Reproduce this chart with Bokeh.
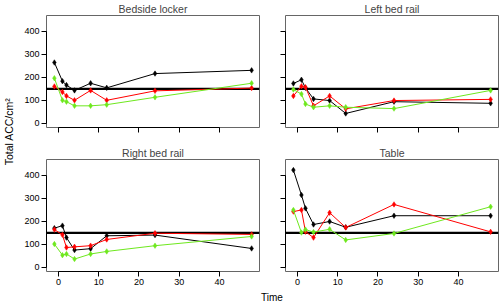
import math
from bokeh.plotting import figure
from bokeh.layouts import row, column
from bokeh.models import Range1d, FixedTicker, Span
from bokeh.embed import file_html
from bokeh.resources import INLINE
from bokeh.core.properties import value

# ---- data ----
time = [-1, 1, 2, 4, 8, 12, 24, 48]

titles = ["Bedside locker", "Left bed rail", "Right bed rail", "Table"]

bedside_black = [264, 183, 166, 143, 174, 154, 216, 230]
bedside_red = [160, 136, 119, 100, 143, 100, 141, 153]
bedside_green = [196, 100, 94, 76, 76, 81, 113, 174]

left_black = [173, 189, 154, 106, 99, 43, 94, 87]
left_red = [119, 161, 157, 76, 119, 63, 99, 104]
left_green = [147, 127, 84, 70, 76, 70, 64, 143]

right_black = [170, 181, 129, 75, 81, 137, 140, 82]
right_red = [164, 141, 86, 89, 94, 121, 148, 143]
right_green = [101, 53, 58, 36, 58, 69, 94, 134]

table_black = [422, 314, 256, 186, 199, 174, 224, 224]
table_red = [242, 249, 155, 129, 237, 173, 273, 154]
table_green = [249, 151, 164, 153, 165, 119, 147, 263]

threshold = 150

x_ticks = [0, 10, 20, 30, 40]
y_ticks = [0, 100, 200, 300, 400]

y_label = "Total ACC/cm\u00b2"
x_label = "Time"

# ---- styles ----
FONT = "Liberation Sans"
BLACK = "#000000"
RED = "#ff0000"
GREEN = "#6ee81e"
BOX = "#666666"


def make_panel(title, blacks, reds, greens, xlabels, ylabels, width, height,
               bl, br, bt, bb):
    p = figure(width=width, height=height, output_backend="svg",
               toolbar_location=None,
               x_range=Range1d(-2.96, 49.96), y_range=Range1d(-18, 468),
               min_border_left=bl, min_border_right=br,
               min_border_top=bt, min_border_bottom=bb)
    p.title.text = title
    p.title.text_font = FONT
    p.title.text_font_size = "10.5px"
    p.title.text_font_style = "normal"
    p.title.align = "center"
    p.title.offset = 0
    p.title.standoff = 1
    p.grid.visible = False
    p.outline_line_color = BOX
    p.outline_line_width = 1
    p.background_fill_color = "white"
    p.border_fill_color = "white"

    for ax, ticks, bounds, show in ((p.xaxis[0], x_ticks, (0, 40), xlabels),
                                    (p.yaxis[0], y_ticks, (0, 400), ylabels)):
        ax.ticker = FixedTicker(ticks=ticks)
        ax.bounds = bounds
        ax.minor_tick_line_color = None
        ax.major_tick_in = 0
        ax.major_tick_out = 5
        ax.major_tick_line_color = BLACK
        ax.axis_line_color = BLACK
        ax.major_label_standoff = 2
        ax.major_label_text_font = FONT
        ax.major_label_text_color = BLACK
        ax.major_label_text_font_size = "9px"
        if not show:
            ax.major_label_overrides = {t: "" for t in ticks}

    span = Span(location=threshold, dimension="width", line_color=BLACK,
                line_width=2.3, level="underlay")
    p.add_layout(span)

    for ys, col in ((blacks, BLACK), (reds, RED), (greens, GREEN)):
        p.line(time, ys, line_color=col, line_width=1)
        p.scatter(time, ys, marker="diamond", size=5.5, fill_color=col,
                  line_color=col, line_width=0.5)
    return p


W0 = 20           # y-label strip
W1, W2 = 252, 227 # left / right column
H1, H2, H3 = 143, 146, 13

f1 = make_panel(titles[0], bedside_black, bedside_red, bedside_green,
                False, True, W1, H1, 26, 13, 14, 16)
f2 = make_panel(titles[1], left_black, left_red, left_green,
                False, False, W2, H1, 13, 1, 14, 16)
f3 = make_panel(titles[2], right_black, right_red, right_green,
                True, True, W1, H2, 26, 13, 16, 18)
f4 = make_panel(titles[3], table_black, table_red, table_green,
                True, False, W2, H2, 13, 1, 16, 18)

HT = H1 + H2 + H3

# y-axis label strip
ylab = figure(width=W0, height=HT, output_backend="svg", toolbar_location=None,
              x_range=Range1d(0, W0), y_range=Range1d(0, HT),
              x_axis_type=None, y_axis_type=None, min_border=0)
ylab.outline_line_color = None
ylab.grid.visible = False
ylab.text(x=[8], y=[HT - 131], text=[y_label], angle=math.pi / 2,
          text_align="center", text_baseline="middle",
          text_font=value(FONT), text_font_size="10.5px", text_color=BLACK)

# x-axis label strip
xlab = figure(width=W1 + W2, height=H3, output_backend="svg",
              toolbar_location=None,
              x_range=Range1d(0, W1 + W2), y_range=Range1d(0, H3),
              x_axis_type=None, y_axis_type=None, min_border=0)
xlab.outline_line_color = None
xlab.grid.visible = False
xlab.text(x=[251.5], y=[5.5], text=[x_label], text_align="center",
          text_baseline="middle", text_font=value(FONT),
          text_font_size="10px", text_color=BLACK)

layout = row(ylab, column(row(f1, f2), row(f3, f4), xlab))

open("out.html", "w").write(file_html(layout, INLINE))
